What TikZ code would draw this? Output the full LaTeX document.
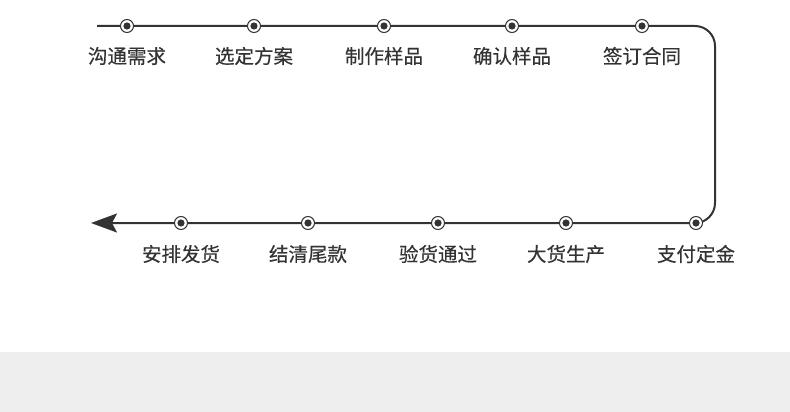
\documentclass[tikz,border=0pt]{standalone}
\usepackage{fontspec}
\setmainfont{Noto Sans CJK SC}
\newfontfamily\labelfont[FakeBold=0.4]{Noto Sans CJK SC}
\usetikzlibrary{arrows.meta}
\definecolor{linegray}{HTML}{333333}
\definecolor{bandgray}{HTML}{EEEEEE}
\begin{document}
\begin{tikzpicture}[x=1pt, y=-1pt]
        \tikzstyle{step_dot} = [shape = circle, draw = linegray, fill = white, line width = 1pt, minimum size = 13pt, inner sep = 0pt,
          path picture = {\fill[linegray] (path picture bounding box.center) circle (3.6pt);}]
        \tikzstyle{step_label} = [text = linegray, font = \labelfont\fontsize{19.5}{22}\selectfont, inner sep = 0pt]

        \useasboundingbox (0, 0) rectangle (790, 412);
        \fill[bandgray] (0, 352) rectangle (790, 412);

        \coordinate (start) at (97, 26);
        \coordinate (turn_top) at (715, 26);
        \coordinate (turn_bottom) at (715, 223);
        \coordinate (finish) at (91, 223);

        \draw[linegray, line width = 2pt, rounded corners = 20pt, -{Stealth[length = 26pt, width = 19pt, inset = 5pt]}]
          (start) -- (turn_top) -- (turn_bottom) -- (finish);

        \node[step_dot] at (127, 26) (n1) {};
        \node[step_label] at (127, 56) (n1_l) {沟通需求};

        \node[step_dot] at (254, 26) (n2) {};
        \node[step_label] at (254, 56) (n2_l) {选定方案};

        \node[step_dot] at (384, 26) (n3) {};
        \node[step_label] at (384, 56) (n3_l) {制作样品};

        \node[step_dot] at (512, 26) (n4) {};
        \node[step_label] at (512, 56) (n4_l) {确认样品};

        \node[step_dot] at (642, 26) (n5) {};
        \node[step_label] at (642, 56) (n5_l) {签订合同};

        \node[step_dot] at (696, 223) (n6) {};
        \node[step_label] at (696, 254) (n6_l) {支付定金};

        \node[step_dot] at (566, 223) (n7) {};
        \node[step_label] at (566, 254) (n7_l) {大货生产};

        \node[step_dot] at (438, 223) (n8) {};
        \node[step_label] at (438, 254) (n8_l) {验货通过};

        \node[step_dot] at (308, 223) (n9) {};
        \node[step_label] at (308, 254) (n9_l) {结清尾款};

        \node[step_dot] at (181, 223) (n10) {};
        \node[step_label] at (181, 254) (n10_l) {安排发货};
      \end{tikzpicture}
\end{document}
